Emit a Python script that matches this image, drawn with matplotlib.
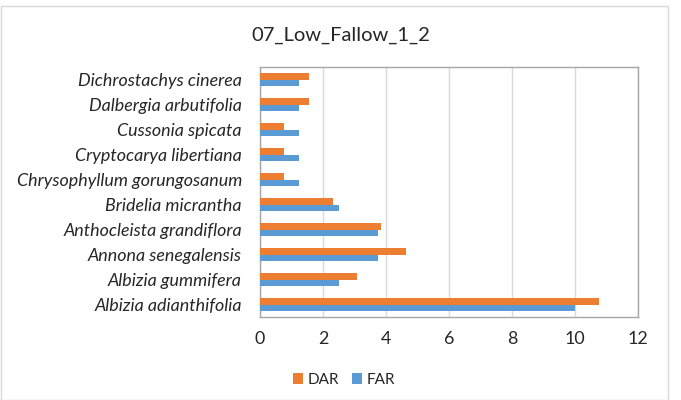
import matplotlib
matplotlib.use("Agg")
import matplotlib.pyplot as plt
from matplotlib.patches import Rectangle
import numpy as np

species = [
    "Albizia adianthifolia",
    "Albizia gummifera",
    "Annona senegalensis",
    "Anthocleista grandiflora",
    "Bridelia micrantha",
    "Chrysophyllum gorungosanum",
    "Cryptocarya libertiana",
    "Cussonia spicata",
    "Dalbergia arbutifolia",
    "Dichrostachys cinerea",
]
dar = [10.77, 3.08, 4.62, 3.85, 2.31, 0.77, 0.77, 0.77, 1.54, 1.54]
far = [10.0, 2.5, 3.75, 3.75, 2.5, 1.25, 1.25, 1.25, 1.25, 1.25]
x_ticks = [0, 2, 4, 6, 8, 10, 12]

ORANGE = "#ED7D31"
BLUE = "#5B9BD5"
GRID = "#D9D9D9"
TXT = "#262626"

plt.rcParams["font.family"] = ["Lato", "DejaVu Sans"]

fig = plt.figure(figsize=(6.81, 4.0), dpi=100)
fig.patches.append(Rectangle((0.002, 0.0), 0.979, 0.986, transform=fig.transFigure,
                             fill=False, edgecolor=GRID, linewidth=1.0))
ax = fig.add_axes([0.3818, 0.2075, 0.5551, 0.625])

y = np.arange(len(species))
h = 0.25
ax.barh(y + h / 2, dar, h, color=ORANGE, label="DAR", zorder=3)
ax.barh(y - h / 2, far, h, color=BLUE, label="FAR", zorder=3)

ax.set_xlim(0, 12)
ax.set_ylim(-0.5, len(species) - 0.5)
ax.set_xticks(x_ticks)
ax.set_xticklabels([str(t) for t in x_ticks])
ax.set_yticks(y)
ax.set_yticklabels(species, fontstyle="italic")
ax.tick_params(axis="both", length=0, labelsize=12.9, colors=TXT)
ax.tick_params(axis="x", pad=10)
ax.tick_params(axis="y", pad=13)
ax.grid(True, axis="x", color=GRID, linewidth=1.0, zorder=0)
for s in ax.spines.values():
    s.set_color("#A6A6A6")
    s.set_linewidth(1.0)

fig.text(0.5, 0.912, "07_Low_Fallow_1_2", ha="center", va="center",
         fontsize=14.5, color=TXT)

handles, labels = ax.get_legend_handles_labels()
leg = fig.legend(handles, labels, loc="center", bbox_to_anchor=(0.505, 0.05),
                 ncol=2, frameon=False, fontsize=11, handlelength=0.7,
                 handleheight=0.7, handletextpad=0.3, columnspacing=0.8,
                 labelcolor=TXT)

fig.savefig("out.png", dpi=100)
